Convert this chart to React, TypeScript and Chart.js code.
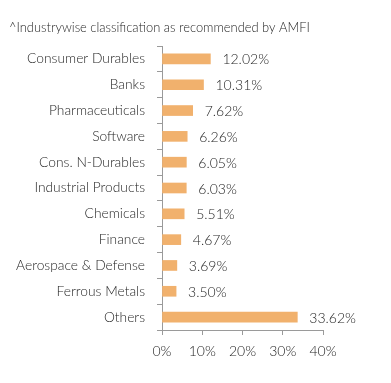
import React, { useEffect, useRef } from "react";
import { Chart, registerables } from "chart.js";

Chart.register(...registerables);

const TITLE = "^Industrywise classification as recommended by AMFI";
const categories = [
  "Consumer Durables",
  "Banks",
  "Pharmaceuticals",
  "Software",
  "Cons. N-Durables",
  "Industrial Products",
  "Chemicals",
  "Finance",
  "Aerospace & Defense",
  "Ferrous Metals",
  "Others",
];
const values = [12.02, 10.31, 7.62, 6.26, 6.05, 6.03, 5.51, 4.67, 3.69, 3.5, 33.62];
const xTicks = [0, 10, 20, 30, 40];

const FONT = "Lato, 'Open Sans', sans-serif";
const TEXT = "#1f1f1f";
const AXIS = "#9a9a9a";
const BAR = "#F1B16D";

const labelPlugin = {
  id: "labelsAndTitle",
  afterDatasetsDraw(chart: any) {
    const ctx = chart.ctx;
    ctx.save();
    ctx.fillStyle = TEXT;
    ctx.font = `300 12.9px ${FONT}`;
    ctx.textAlign = "left";
    ctx.textBaseline = "middle";
    ctx.fillText(TITLE, 9, 28);
    const meta = chart.getDatasetMeta(0);
    ctx.font = `300 14px ${FONT}`;
    meta.data.forEach((bar: any, i: number) => {
      ctx.fillText(values[i].toFixed(2) + "%", bar.x + 12, bar.y + 1);
    });
    ctx.restore();
  },
};

export default function App() {
  const ref = useRef<HTMLCanvasElement>(null);
  useEffect(() => {
    document.body.style.margin = "0";
    const chart = new Chart(ref.current!, {
      type: "bar",
      data: {
        labels: categories,
        datasets: [
          {
            data: values,
            backgroundColor: BAR,
            barThickness: 10,
          },
        ],
      },
      options: {
        indexAxis: "y",
        animation: false,
        responsive: false,
        layout: { padding: { top: 46, right: 68, bottom: 0, left: 0 } },
        plugins: { legend: { display: false }, tooltip: { enabled: false } },
        scales: {
          x: {
            min: 0,
            max: 40,
            afterBuildTicks(scale: any) {
              scale.ticks = xTicks.map((v) => ({ value: v }));
            },
            afterFit(scale: any) {
              scale.height = 53;
            },
            grid: {
              drawOnChartArea: false,
              drawTicks: true,
              tickLength: 5,
              color: AXIS,
            },
            border: { color: AXIS, width: 1 },
            ticks: {
              color: TEXT,
              padding: 8,
              font: { family: FONT, size: 14, weight: "300" as any },
              callback: (v: any) => v + "%",
            },
          },
          y: {
            afterFit(scale: any) {
              scale.width = 162;
            },
            grid: {
              drawOnChartArea: false,
              drawTicks: true,
              tickLength: 5,
              color: AXIS,
              offset: true,
            },
            border: { color: AXIS, width: 1 },
            ticks: {
              color: TEXT,
              padding: 12,
              font: { family: FONT, size: 13.8, weight: "300" as any },
            },
          },
        },
      },
      plugins: [labelPlugin],
    });
    return () => chart.destroy();
  }, []);
  return (
    <div style={{ width: 391, height: 383 }}>
      <canvas ref={ref} width={391} height={383} style={{ display: "block" }} />
    </div>
  );
}
